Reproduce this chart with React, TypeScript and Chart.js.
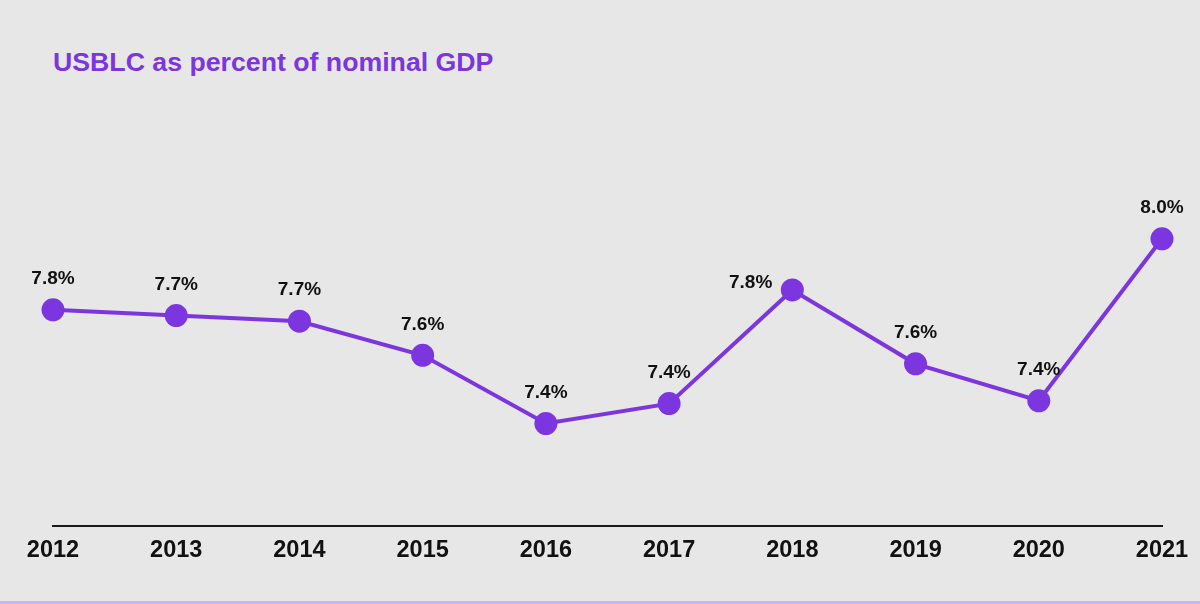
import React, { useEffect, useRef } from "react";
import { Chart, registerables } from "chart.js";

Chart.register(...registerables);

const titleText = "USBLC as percent of nominal GDP";
const years = ["2012", "2013", "2014", "2015", "2016", "2017", "2018", "2019", "2020", "2021"];
const ratioValues = [7.76, 7.74, 7.72, 7.6, 7.36, 7.43, 7.83, 7.57, 7.44, 8.01];
const labelPlacement = ["top", "top", "top", "top", "top", "top", "left", "top", "top", "top"];

const PURPLE = "#7c36e0";
const BG = "#e7e7e7";

const pointLabelPlugin = {
  id: "pointLabels",
  afterDatasetsDraw(chart: any) {
    const ctx = chart.ctx;
    const meta = chart.getDatasetMeta(0);
    ctx.save();
    ctx.font = "bold 19px 'Liberation Sans', Arial, sans-serif";
    ctx.fillStyle = "#111111";
    ctx.textBaseline = "middle";
    meta.data.forEach((pt: any, i: number) => {
      const txt = ratioValues[i].toFixed(1) + "%";
      if (labelPlacement[i] === "left") {
        ctx.textAlign = "right";
        ctx.fillText(txt, pt.x - 20, pt.y - 7);
      } else {
        ctx.textAlign = "center";
        ctx.fillText(txt, pt.x, pt.y - 31);
      }
    });
    ctx.restore();
  },
};

export default function App() {
  const canvasRef = useRef<HTMLCanvasElement | null>(null);

  useEffect(() => {
    if (!canvasRef.current) return;
    const chart = new Chart(canvasRef.current, {
      type: "line",
      data: {
        labels: years,
        datasets: [
          {
            data: ratioValues,
            borderColor: PURPLE,
            backgroundColor: PURPLE,
            borderWidth: 4,
            pointRadius: 11.5,
            pointHoverRadius: 11.5,
            pointBackgroundColor: PURPLE,
            pointBorderWidth: 0,
            tension: 0,
            clip: false as any,
          },
        ],
      },
      options: {
        animation: false,
        responsive: true,
        maintainAspectRatio: false,
        layout: { padding: { top: 128, left: 53, right: 38, bottom: 25 } },
        plugins: {
          legend: { display: false },
          tooltip: { enabled: false },
        },
        scales: {
          x: {
            offset: false,
            grid: { display: false, drawTicks: false },
            border: { display: true, color: "#1a1a1a", width: 2 },
            ticks: {
              color: "#111111",
              padding: 11,
              maxRotation: 0,
              autoSkip: false,
              font: { family: "'Liberation Sans', Arial, sans-serif", size: 23.5, weight: "bold" },
            },
          },
          y: {
            display: false,
            min: 7.0,
            max: 8.4,
          },
        },
      },
      plugins: [pointLabelPlugin],
    });
    return () => chart.destroy();
  }, []);

  return (
    <div
      style={{
        position: "fixed",
        left: 0,
        top: 0,
        width: 1200,
        height: 604,
        background: BG,
        overflow: "hidden",
      }}
    >
      <div
        style={{
          position: "absolute",
          left: 53,
          top: 45,
          fontFamily: "'Liberation Sans', Arial, sans-serif",
          fontWeight: "bold",
          fontSize: 26.7,
          lineHeight: "34px",
          color: PURPLE,
          whiteSpace: "nowrap",
        }}
      >
        {titleText}
      </div>
      <div style={{ position: "absolute", left: 0, top: 0, width: 1200, height: 601 }}>
        <canvas ref={canvasRef} />
      </div>
      <div
        style={{
          position: "absolute",
          left: 0,
          top: 601,
          width: 1200,
          height: 3,
          background: "#c9b3ef",
        }}
      />
    </div>
  );
}
